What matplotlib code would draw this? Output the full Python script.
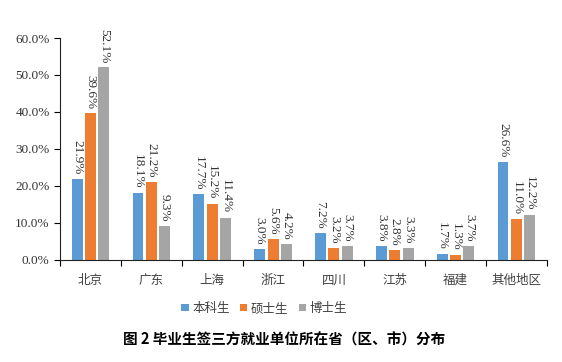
import numpy as np
import matplotlib
matplotlib.use('Agg')
import matplotlib.pyplot as plt
from matplotlib.ticker import FuncFormatter

plt.rcParams['font.family'] = ['Liberation Serif', 'Noto Sans CJK SC']

regions = ['北京', '广东', '上海', '浙江', '四川', '江苏', '福建', '其他地区']
series_names = ['本科生', '硕士生', '博士生']
bachelor = [21.9, 18.1, 17.7, 3.0, 7.2, 3.8, 1.7, 26.6]
master = [39.6, 21.2, 15.2, 5.6, 3.2, 2.8, 1.3, 11.0]
doctor = [52.1, 9.3, 11.4, 4.2, 3.7, 3.3, 3.7, 12.2]
colors = ['#5B9BD5', '#ED7D31', '#A5A5A5']

fig = plt.figure(figsize=(5.62, 3.62), dpi=100)
ax = fig.add_axes([0.107, 0.282, 0.866, 0.613])

x = np.arange(len(regions))
w = 0.18
step = 0.22
for i, (vals, name) in enumerate(zip([bachelor, master, doctor], series_names)):
    pos = x + (i - 1) * step
    bars = ax.bar(pos, vals, width=w, color=colors[i], label=name)
    for b, v in zip(bars, vals):
        ax.annotate(f'{v:.1f}%', (b.get_x() + b.get_width() / 2, v),
                    xytext=(0, 3), textcoords='offset points',
                    ha='center', va='bottom', rotation=-90, fontsize=9.5,
                    color='#333333')

ax.set_xlim(-0.5, len(regions) - 0.5)
ax.set_ylim(0, 60)
ax.set_yticks(np.arange(0, 61, 10))
ax.yaxis.set_major_formatter(FuncFormatter(lambda v, p: f'{v:.1f}%'))
ax.set_xticks(x)
ax.set_xticklabels(regions, fontsize=9, color='#404040', family='Noto Sans CJK SC')
ax.set_xticks(np.arange(-0.5, len(regions)), minor=True)
ax.tick_params(axis='x', which='major', length=0, pad=10)
ax.tick_params(axis='x', which='minor', length=4, width=0.8, direction='out')
ax.tick_params(axis='y', length=4, width=0.8, labelsize=9.5, labelcolor='#333333')
for s in ['top', 'right']:
    ax.spines[s].set_visible(False)
ax.spines['left'].set_color('#222222')
ax.spines['bottom'].set_color('#222222')

leg = fig.legend(loc='center', bbox_to_anchor=(0.47, 0.148), ncol=3, frameon=False,
                 handlelength=0.6, handleheight=0.6, handletextpad=0.3, columnspacing=0.8,
                 prop={'family': 'Noto Sans CJK SC', 'size': 9})
for t in leg.get_texts():
    t.set_color('#404040')

fig.text(0.505, 0.062, '图 2 毕业生签三方就业单位所在省（区、市）分布', ha='center', va='center',
         fontsize=10.5, fontweight='bold', family='Noto Sans CJK SC')

fig.savefig('out.png', dpi=100, facecolor='white')
